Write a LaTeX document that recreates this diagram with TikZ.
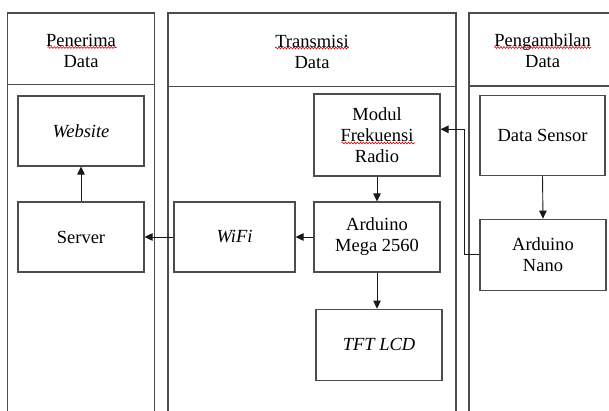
\documentclass[tikz,border=0pt]{standalone}
\usepackage{fontspec}
\setmainfont{Liberation Serif}
\usetikzlibrary{arrows.meta,decorations.pathmorphing}
\begin{document}
\begin{tikzpicture}[x=1pt,y=-1pt,
  every node/.style={font=\fontsize{18.5}{21}\selectfont},
  frame/.style={draw=black!70,line width=1.1pt},
  blk/.style={draw=black!70,line width=1.1pt,rectangle,inner sep=0pt,align=center},
  conn/.style={draw=black!90,line width=0.9pt,-{Triangle[length=8pt,width=7.5pt]}},
  hdr/.style={align=center,inner sep=0pt},
  spell/.style={draw=red!85!black,line width=0.6pt,decorate,decoration={snake,segment length=3pt,amplitude=0.9pt}}]
\useasboundingbox (0,0) rectangle (609,411);
% columns
\draw[frame] (7.5,411) -- (7.5,13) -- (154.5,13) -- (154.5,411);
\draw[frame] (7.5,84.5) -- (154.5,84.5);
\draw[frame] (168,411) -- (168,13) -- (456,13) -- (456,411);
\draw[frame] (168,86.5) -- (456,86.5);
\draw[frame] (469,411) -- (469,13) -- (609,13);
\draw[frame] (469,86) -- (609,86);
% headers
\node[hdr] (h1) at (81,50.5) {Penerima\\Data};
\node[hdr] (h2) at (312,51.5) {Transmisi\\Data};
\node[hdr] (h3) at (542.6,51) {Pengambilan\\Data};
% blocks
\node[blk,minimum width=126,minimum height=70] (web) at (81,131) {\itshape Website};
\node[blk,minimum width=126,minimum height=70] (server) at (81,237) {Server};
\node[blk,minimum width=121,minimum height=70] (wifi) at (234.5,237) {\itshape WiFi};
\node[blk,minimum width=126,minimum height=82] (modul) at (377,135) {Modul\\Frekuensi\\Radio};
\node[blk,minimum width=126,minimum height=70] (mega) at (377,237) {Arduino\\Mega 2560};
\node[blk,minimum width=126,minimum height=71] (tft) at (379,344.7) {\itshape TFT LCD};
\node[blk,minimum width=125,minimum height=80] (sensor) at (542.5,135.7) {Data Sensor};
\node[blk,minimum width=126,minimum height=71] (nano) at (543,254.7) {Arduino\\Nano};
% spell-check marks
\draw[spell] (47.5,47.5) -- (116.5,47.5);
\draw[spell] (275,48) -- (349,48);
\draw[spell] (494,47.5) -- (591,47.5);
\draw[spell] (341.5,143) -- (415,143);
% connectors
\draw[conn] (server.north) -- (web.south);
\draw[conn] (wifi.west) -- (server.east);
\draw[conn] (mega.west) -- (wifi.east);
\draw[conn] (modul.south) -- (mega.north);
\draw[conn] (mega.south) -- (mega.south |- tft.north);
\draw[conn] (sensor.south) -- (nano.north);
\coordinate (elbow) at (464,129.3);
\draw[conn] (nano.west) -| (elbow) -- (modul.east |- elbow);
\end{tikzpicture}
\end{document}
